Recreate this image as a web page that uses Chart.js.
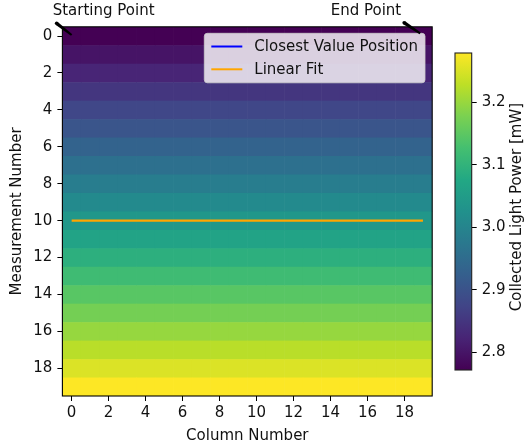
<!DOCTYPE html>
<html lang="en">
<head>
<meta charset="UTF-8">
<title>Collected Light Power Map</title>
<script src="https://cdn.jsdelivr.net/npm/chart.js"></script>
<style>
  body { margin: 0; background: #fff; }
  .wrap { position: relative; width: 525px; height: 448px; }
  .wrap canvas { position: absolute; left: 0; top: 0; }
</style>
</head>
<body>
<div class="wrap">
  <canvas id="mapChart" width="525" height="448"></canvas>
  <canvas id="barChart" width="525" height="448"></canvas>
</div>
<script>
// grid indices
const columns = [0, 1, 2, 3, 4, 5, 6, 7, 8, 9, 10, 11, 12, 13, 14, 15, 16, 17, 18, 19];
const rows = [0, 1, 2, 3, 4, 5, 6, 7, 8, 9, 10, 11, 12, 13, 14, 15, 16, 17, 18, 19];
// collected power per measurement row [mW], same across all columns
const rowPower = [2.772, 2.799, 2.825, 2.852, 2.879, 2.905, 2.932, 2.959, 2.985, 3.012,
                  3.039, 3.065, 3.092, 3.119, 3.146, 3.172, 3.199, 3.225, 3.252, 3.279];
const powerMin = 2.772;
const powerMax = 3.279;
// overlays
const fitX = [0, 19];
const fitY = [10, 10];
const closestX = [];
const closestY = [];
// ticks
const xTicks = [0, 2, 4, 6, 8, 10, 12, 14, 16, 18];
const yTicks = [0, 2, 4, 6, 8, 10, 12, 14, 16, 18];
const cbarTicks = [2.8, 2.9, 3.0, 3.1, 3.2];

const powerGrid = rows.map(r => columns.map(() => rowPower[r]));

const FONT = '15px "DejaVu Sans"';
Chart.defaults.font.family = '"DejaVu Sans", sans-serif';
Chart.defaults.font.size = 15;
Chart.defaults.color = '#111';

const viridisStops = ['#440154', '#482475', '#414487', '#355f8d', '#2a788e', '#21918c',
                      '#22a884', '#44bf70', '#7ad151', '#bddf26', '#fde725'];

function hexRgb(h) {
  return [parseInt(h.slice(1, 3), 16), parseInt(h.slice(3, 5), 16), parseInt(h.slice(5, 7), 16)];
}

function viridis(t) {
  t = Math.max(0, Math.min(1, t));
  const p = t * (viridisStops.length - 1);
  const i = Math.min(Math.floor(p), viridisStops.length - 2);
  const f = p - i;
  const a = hexRgb(viridisStops[i]), b = hexRgb(viridisStops[i + 1]);
  const c = a.map((v, k) => Math.round(v + (b[k] - v) * f));
  return `rgb(${c[0]},${c[1]},${c[2]})`;
}

const heatLayer = {
  id: 'heatLayer',
  beforeDatasetsDraw(chart) {
    const {ctx, chartArea: area, scales: {x, y}} = chart;
    ctx.save();
    ctx.beginPath();
    ctx.rect(area.left, area.top, area.right - area.left, area.bottom - area.top);
    ctx.clip();
    powerGrid.forEach((line, r) => line.forEach((v, c) => {
      const x0 = x.getPixelForValue(columns[c] - 0.5), x1 = x.getPixelForValue(columns[c] + 0.5);
      const y0 = y.getPixelForValue(rows[r] - 0.5), y1 = y.getPixelForValue(rows[r] + 0.5);
      ctx.fillStyle = viridis((v - powerMin) / (powerMax - powerMin));
      ctx.fillRect(Math.min(x0, x1), Math.min(y0, y1), Math.abs(x1 - x0) + 0.6, Math.abs(y1 - y0) + 0.6);
    }));
    ctx.restore();
  }
};

const frameLegend = {
  id: 'frameLegend',
  afterDatasetsDraw(chart) {
    const {ctx, chartArea: area} = chart;
    ctx.save();
    ctx.strokeStyle = '#000';
    ctx.lineWidth = 1.1;
    ctx.strokeRect(area.left, area.top, area.right - area.left, area.bottom - area.top);

    // legend box, upper right
    const items = chart.data.datasets;
    ctx.font = FONT;
    const textW = Math.max(...items.map(d => ctx.measureText(d.label).width));
    const w = 7 + 31 + 12 + textW + 7;
    const h = 49.5;
    const bx = area.right - 7.2 - w, by = area.top + 6.5;
    ctx.beginPath();
    ctx.roundRect(bx, by, w, h, 3);
    ctx.fillStyle = 'rgba(255,255,255,0.8)';
    ctx.fill();
    ctx.strokeStyle = 'rgba(204,204,204,0.8)';
    ctx.lineWidth = 1;
    ctx.stroke();
    items.forEach((d, i) => {
      const cy = by + 13.2 + i * 22.8;
      ctx.beginPath();
      ctx.moveTo(bx + 7, cy);
      ctx.lineTo(bx + 38, cy);
      ctx.strokeStyle = d.borderColor;
      ctx.lineWidth = 2;
      ctx.stroke();
      ctx.fillStyle = '#111';
      ctx.textBaseline = 'middle';
      ctx.textAlign = 'left';
      ctx.fillText(d.label, bx + 50, cy + 0.5);
    });
    ctx.restore();
  }
};

// annotation targets in data coordinates, text and arrow offsets in pixels
const notes = [
  {text: 'Starting Point', at: [0, 0], textDx: 32, arrowFrom: [-15, -12.7], arrowTo: [0, -1]},
  {text: 'End Point', at: [19, 0], textDx: -57, arrowFrom: [-18.8, -13.3], arrowTo: [-2.8, -2.7]}
];

const noteLayer = {
  id: 'noteLayer',
  afterDraw(chart) {
    const {ctx, scales: {x, y}} = chart;
    ctx.save();
    notes.forEach(n => {
      const px = x.getPixelForValue(n.at[0]), py = y.getPixelForValue(n.at[1]);
      ctx.fillStyle = '#111';
      ctx.font = FONT;
      ctx.textAlign = 'center';
      ctx.textBaseline = 'middle';
      ctx.fillText(n.text, px + n.textDx, 11.5);
      // tapered arrow: wider at the text end
      const ax = px + n.arrowFrom[0], ay = py + n.arrowFrom[1];
      const bx = px + n.arrowTo[0], by = py + n.arrowTo[1];
      const len = Math.hypot(bx - ax, by - ay);
      const nx = -(by - ay) / len, ny = (bx - ax) / len;
      ctx.beginPath();
      ctx.moveTo(ax + nx * 1.8, ay + ny * 1.8);
      ctx.lineTo(bx + nx * 1.0, by + ny * 1.0);
      ctx.lineTo(bx - nx * 1.0, by - ny * 1.0);
      ctx.lineTo(ax - nx * 1.8, ay - ny * 1.8);
      ctx.closePath();
      ctx.fillStyle = '#000';
      ctx.fill();
      ctx.beginPath();
      ctx.arc(ax, ay, 1.8, 0, Math.PI * 2);
      ctx.fill();
    });
    ctx.restore();
  }
};

new Chart(document.getElementById('mapChart'), {
  type: 'scatter',
  data: {
    datasets: [
      {
        label: 'Closest Value Position',
        data: closestX.map((v, i) => ({x: v, y: closestY[i]})),
        showLine: true,
        borderColor: '#0000ff',
        borderWidth: 2,
        pointRadius: 0
      },
      {
        label: 'Linear Fit',
        data: fitX.map((v, i) => ({x: v, y: fitY[i]})),
        showLine: true,
        borderColor: '#ffa500',
        borderWidth: 2.2,
        pointRadius: 0
      }
    ]
  },
  options: {
    responsive: false,
    animation: false,
    events: [],
    layout: { padding: { left: 0, top: 26.8, right: 92.8, bottom: 0 } },
    plugins: { legend: { display: false }, tooltip: { enabled: false } },
    scales: {
      x: {
        type: 'linear',
        min: -0.5,
        max: 19.5,
        afterBuildTicks: s => { s.ticks = xTicks.map(v => ({value: v})); },
        afterFit: s => { s.height = 52; },
        ticks: { autoSkip: false, maxRotation: 0, padding: 3 },
        grid: { drawOnChartArea: false, tickLength: 5, color: '#000' },
        border: { display: false },
        title: { display: true, text: 'Column Number', padding: { top: 0, bottom: 2.5 } }
      },
      y: {
        type: 'linear',
        reverse: true,
        min: -0.5,
        max: 19.5,
        afterBuildTicks: s => { s.ticks = yTicks.map(v => ({value: v})); },
        afterFit: s => { s.width = 62.4; },
        ticks: { autoSkip: false, padding: 5 },
        grid: { drawOnChartArea: false, tickLength: 5, color: '#000' },
        border: { display: false },
        title: { display: true, text: 'Measurement Number', padding: { top: 8.5, bottom: 0 } }
      }
    }
  },
  plugins: [heatLayer, frameLegend, noteLayer]
});

const colorbarLayer = {
  id: 'colorbarLayer',
  beforeDatasetsDraw(chart) {
    const {ctx, chartArea: area, scales: {y}} = chart;
    const yLo = y.getPixelForValue(powerMin), yHi = y.getPixelForValue(powerMax);
    const grad = ctx.createLinearGradient(0, yLo, 0, yHi);
    viridisStops.forEach((c, i) => grad.addColorStop(i / (viridisStops.length - 1), c));
    ctx.save();
    ctx.fillStyle = grad;
    ctx.fillRect(area.left, yHi, area.right - area.left, yLo - yHi);
    ctx.strokeStyle = '#222';
    ctx.lineWidth = 1.1;
    ctx.strokeRect(area.left, area.top, area.right - area.left, area.bottom - area.top);
    // colorbar label, reading bottom to top
    ctx.translate(517.5, 207);
    ctx.rotate(-Math.PI / 2);
    ctx.fillStyle = '#111';
    ctx.font = FONT;
    ctx.textAlign = 'center';
    ctx.textBaseline = 'middle';
    ctx.fillText('Collected Light Power [mW]', 0, 0);
    ctx.restore();
  }
};

new Chart(document.getElementById('barChart'), {
  type: 'scatter',
  data: { datasets: [] },
  options: {
    responsive: false,
    animation: false,
    events: [],
    layout: { padding: { left: 455, top: 53, bottom: 78, right: 0 } },
    plugins: { legend: { display: false }, tooltip: { enabled: false } },
    scales: {
      x: { display: false, min: 0, max: 1 },
      y: {
        position: 'right',
        min: powerMin,
        max: powerMax,
        afterBuildTicks: s => { s.ticks = cbarTicks.map(v => ({value: v})); },
        afterFit: s => { s.width = 53.3; },
        ticks: { padding: 5, callback: v => v.toFixed(1) },
        grid: { drawOnChartArea: false, tickLength: 5, color: '#000' },
        border: { display: false }
      }
    }
  },
  plugins: [colorbarLayer]
});
</script>
</body>
</html>
